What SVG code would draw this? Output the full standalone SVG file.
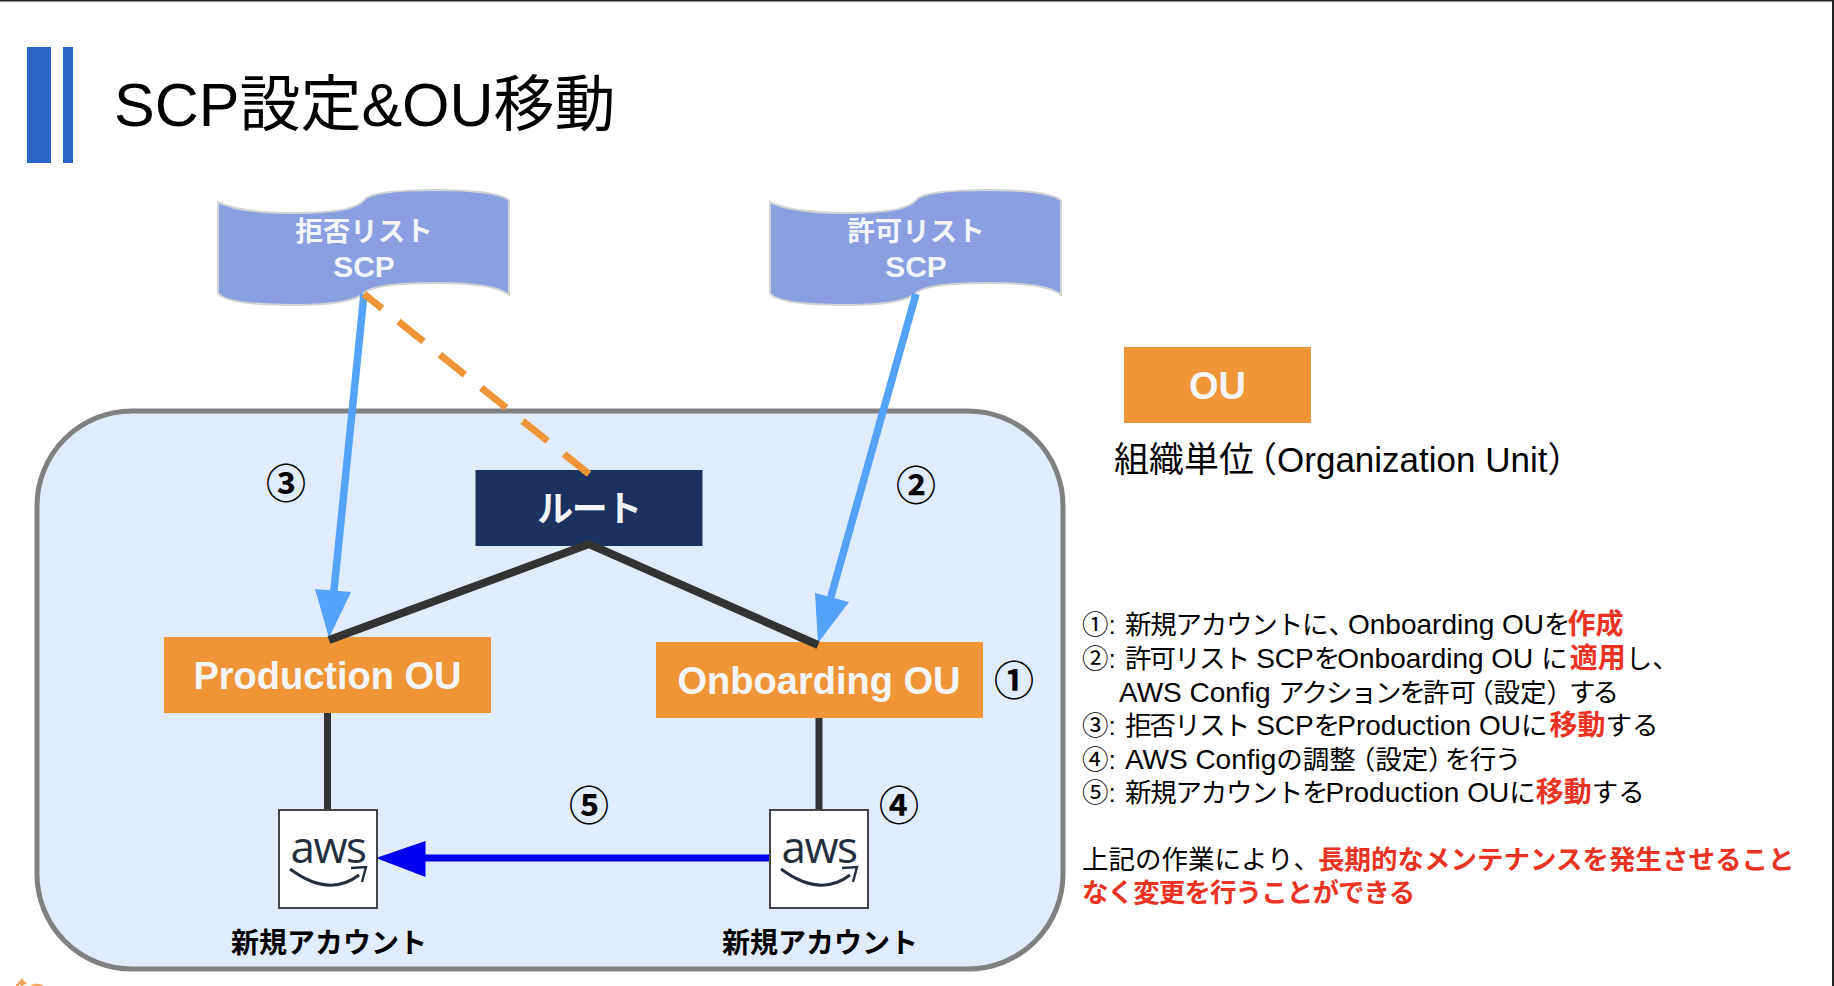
<svg xmlns="http://www.w3.org/2000/svg" width="1834" height="986" viewBox="0 0 1834 986">
<style>
text{font-family:"Liberation Sans","Noto Sans CJK JP",sans-serif}
.wb{fill:#f4f5fb;font-weight:700;text-anchor:middle}
.ou{fill:#f09537}
.num{font-family:"Noto Sans CJK JP",sans-serif;font-weight:700;font-size:40px;text-anchor:middle;fill:#000}
.lst{font-size:26.5px;fill:#000}
.l{font-size:28px}
.r{fill:#ea3323;font-weight:700}
.rb{fill:#ea3323;font-weight:700;font-size:28px}
.flag{fill:#8a9fe0;stroke:#d4d4d4;stroke-width:2}
.box{fill:#fff;stroke:#444;stroke-width:2}
.blk{stroke:#333;stroke-width:8;fill:none}
.lb{stroke:#52a3f9;stroke-width:7.500;fill:none}
.awst{font-family:"Open Sans",sans-serif;font-size:44px;letter-spacing:-1.500px;fill:#232f3e;text-anchor:middle}
.acc{font-size:28px;font-weight:700;text-anchor:middle;fill:#000}
</style>
<defs>
<g id="logo">
<path d="M-38 11Q1 40 31 17" fill="none" stroke="#232f3e" stroke-width="3"/>
<path d="M23 10L38 9L34 24" fill="none" stroke="#232f3e" stroke-width="2.400"/>
</g>
</defs>
<rect width="1834" height="986" fill="#fff"/>
<rect width="1834" height="1.500" fill="#222"/>
<rect x="1832" width="2" height="986" fill="#222"/>
<g id="corner-mark" fill="#f2a65a">
<path d="M22 978L24 981L27 983L24 985L22 986L20 985L17 983L20 981Z"/>
<rect x="16" y="984" width="3" height="2"/>
<path d="M30 986Q37 981 44 986Z"/>
</g>
<g id="title">
<rect x="27" y="47" width="24" height="116" fill="#2b66c5"/>
<rect x="63" y="47" width="10" height="116" fill="#2b66c5"/>
<text x="114" y="126" font-size="61">SCP設定&amp;OU移動</text>
</g>
<g id="container"><rect x="37" y="411" width="1026" height="558" rx="95" ry="95" fill="#e0ecfb" stroke="#808080" stroke-width="5"/></g>
<g id="deny-scp">
<path class="flag" d="M218 202Q240 213 295 213Q355 213 364 200Q372 190 436 190Q495 190 509 200V295Q495 283 436 283Q375 283 364 293Q352 305 295 305Q225 305 218 293Z"/>
<text class="wb" x="364" y="241" font-size="27.500">拒否リスト</text>
<text class="wb" x="364" y="277" font-size="30">SCP</text>
</g>
<g id="allow-scp">
<path class="flag" d="M770 202Q792 213 847 213Q907 213 916 200Q924 190 988 190Q1047 190 1061 200V295Q1047 283 988 283Q927 283 916 293Q904 305 847 305Q777 305 770 293Z"/>
<text class="wb" x="916" y="241" font-size="27.500">許可リスト</text>
<text class="wb" x="916" y="277" font-size="30">SCP</text>
</g>
<g id="root">
<rect x="475.500" y="470" width="227" height="76" fill="#1b3160"/>
<text class="wb" x="589" y="522" font-size="36" letter-spacing="-1.500">ルート</text>
</g>
<g id="production-ou">
<rect class="ou" x="164" y="637" width="327" height="76"/>
<text class="wb" x="327.500" y="689" font-size="38">Production OU</text>
</g>
<g id="onboarding-ou">
<rect class="ou" x="656" y="642" width="327" height="76"/>
<text class="wb" x="819" y="694" font-size="38">Onboarding OU</text>
</g>
<g id="legend-ou">
<rect class="ou" x="1124" y="347" width="187" height="76"/>
<text class="wb" x="1217.500" y="399" font-size="38">OU</text>
</g>
<text id="legend-label" x="1114" y="472" font-size="35">組織単<tspan letter-spacing="-12">位</tspan>（Organization Unit）</text>
<g id="connectors">
<path class="lb" d="M364 294L333 600"/>
<path fill="#52a3f9" d="M329 638L315 589L351 592Z"/>
<path class="lb" d="M916 294L830 600"/>
<path fill="#52a3f9" d="M818 643L815 593L849 602Z"/>
<path d="M589 474L364 294" stroke="#f09537" stroke-width="7" stroke-dasharray="32 21" fill="none"/>
<path class="blk" d="M329 640L589 544L818 645"/>
<path d="M327.500 713V810M819 718V810" stroke="#333" stroke-width="7" fill="none"/>
<path d="M770 858H420" stroke="#0000f0" stroke-width="7" fill="none"/>
<path fill="#0000f0" d="M376 858L425.500 841V877Z"/>
</g>
<g id="account-a">
<rect class="box" x="279" y="810" width="98" height="98"/>
<text class="awst" x="328" y="863">aws</text>
<use href="#logo" x="328" y="858"/>
<text class="acc" x="329" y="953">新規アカウント</text>
</g>
<g id="account-b">
<rect class="box" x="770" y="810" width="98" height="98"/>
<text class="awst" x="819" y="863">aws</text>
<use href="#logo" x="819" y="858"/>
<text class="acc" x="820" y="953">新規アカウント</text>
</g>
<g id="step-numbers">
<text class="num" x="1014" y="695">①</text>
<text class="num" x="916" y="500">②</text>
<text class="num" x="286" y="498">③</text>
<text class="num" x="899" y="820">④</text>
<text class="num" x="589" y="820">⑤</text>
</g>
<g id="notes">
<text class="lst" x="1082" y="634">①:<tspan dx="9" letter-spacing="-1.200">新規アカウント</tspan>に<tspan letter-spacing="-7">、</tspan><tspan class="l">Onboarding OU</tspan><tspan letter-spacing="-3">を</tspan><tspan class="rb">作成</tspan></text>
<text class="lst" x="1082" y="668">②:<tspan dx="9" letter-spacing="-1.800">許可リスト</tspan><tspan class="l"> SCP</tspan><tspan letter-spacing="-3">を</tspan><tspan class="l">Onboarding OU </tspan><tspan letter-spacing="2">に</tspan><tspan class="rb">適用</tspan>し、</text>
<text class="lst" x="1119" y="702"><tspan class="l">AWS Config </tspan><tspan letter-spacing="-2">アクション</tspan><tspan letter-spacing="-3">を</tspan>許<tspan letter-spacing="-9">可</tspan>（設定<tspan letter-spacing="-4">）</tspan><tspan letter-spacing="-3">する</tspan></text>
<text class="lst" x="1082" y="735">③:<tspan dx="9" letter-spacing="-1.800">拒否リスト</tspan><tspan class="l"> SCP</tspan><tspan letter-spacing="-3">を</tspan><tspan class="l">Production OU</tspan><tspan letter-spacing="2">に</tspan><tspan class="rb">移動</tspan>する</text>
<text class="lst" x="1082" y="769">④:<tspan dx="9" class="l">AWS Config</tspan>の調<tspan letter-spacing="-7">整</tspan>（設定<tspan letter-spacing="-10">）</tspan><tspan letter-spacing="-1.500">を行う</tspan></text>
<text class="lst" x="1082" y="802">⑤:<tspan dx="9" letter-spacing="-1.200">新規アカウント</tspan><tspan letter-spacing="-3">を</tspan><tspan class="l">Production OU</tspan>に<tspan class="rb">移動</tspan>する</text>
<text class="lst" x="1082" y="869">上記の作業により<tspan letter-spacing="-2">、</tspan><tspan class="r">長期的なメンテナンスを発生させること</tspan></text>
<text class="lst r" x="1082" y="902" letter-spacing="-0.900">なく変更を行うことができる</text>
</g>
</svg>
